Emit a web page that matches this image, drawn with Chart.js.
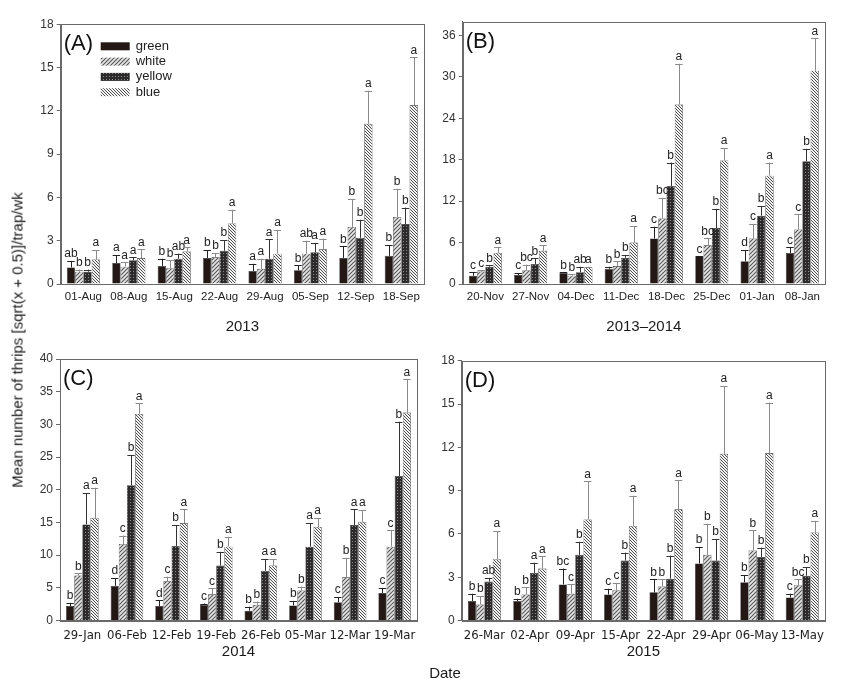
<!DOCTYPE html>
<html>
<head>
<meta charset="utf-8">
<script src="https://cdn.jsdelivr.net/npm/chart.js@4.4.1/dist/chart.umd.min.js"></script>
<style>
  body { margin: 0; background: #fff; width: 847px; height: 689px; position: relative; overflow: hidden;
         font-family: "Liberation Sans", Arial, sans-serif; }
  canvas { position: absolute; left: 0; top: 0; }
  .txt { position: absolute; color: #1a1a1a; white-space: nowrap; font-size: 15px; }
</style>
</head>
<body>
<canvas id="panelA" width="847" height="689"></canvas>
<canvas id="panelB" width="847" height="689"></canvas>
<canvas id="panelC" width="847" height="689"></canvas>
<canvas id="panelD" width="847" height="689"></canvas>
<div class="txt" style="left:17px;top:340px;transform:translate(-50%,-50%) rotate(-90deg);">Mean number of thrips [sqrt(x + 0.5)]/trap/wk</div>
<div class="txt" style="left:405px;top:664px;width:80px;text-align:center;">Date</div>
<script>
var seriesNames = ["green", "white", "yellow", "blue"];

// (A) 2013
var datesA = ["01-Aug", "08-Aug", "15-Aug", "22-Aug", "29-Aug", "05-Sep", "12-Sep", "18-Sep"];
var greenA = [1.15, 1.45, 1.25, 1.8, 0.9, 0.95, 1.8, 1.95];
var whiteA = [0.85, 1.2, 1.1, 1.85, 1.05, 2.1, 3.95, 4.65];
var yellowA = [0.85, 1.65, 1.75, 2.3, 1.75, 2.2, 3.2, 4.15];
var blueA = [1.7, 1.8, 2.25, 4.2, 2.1, 2.4, 11.1, 12.4];
var greenTopA = [1.6, 2.0, 1.75, 2.35, 1.4, 1.3, 2.6, 2.7];
var whiteTopA = [1.0, 1.5, 1.65, 2.15, 1.75, 3.0, 5.9, 6.6];
var yellowTopA = [1.0, 1.85, 2.1, 3.05, 3.1, 2.85, 4.45, 5.3];
var blueTopA = [2.35, 2.4, 2.55, 5.15, 3.75, 3.15, 13.4, 15.7];
var greenLetA = ["ab", "a", "b", "b", "a", "b", "b", "b"];
var whiteLetA = ["b", "a", "b", "b", "a", "ab", "b", "b"];
var yellowLetA = ["b", "a", "ab", "b", "a", "a", "b", "b"];
var blueLetA = ["a", "a", "a", "a", "a", "a", "a", "a"];
var ticksA = [0, 3, 6, 9, 12, 15, 18];

// (B) 2013-2014
var datesB = ["20-Nov", "27-Nov", "04-Dec", "11-Dec", "18-Dec", "25-Dec", "01-Jan", "08-Jan"];
var greenB = [1.2, 1.3, 1.6, 2.2, 6.6, 4.0, 3.3, 4.5];
var whiteB = [1.8, 2.0, 1.2, 2.6, 9.5, 5.6, 6.6, 7.9];
var yellowB = [2.5, 2.9, 1.7, 3.8, 14.2, 8.1, 9.9, 17.8];
var blueB = [4.5, 4.8, 2.4, 6.0, 26.0, 17.9, 15.7, 30.9];
var greenTopB = [1.7, 1.6, 1.7, 2.5, 8.3, 4.0, 4.9, 5.3];
var whiteTopB = [2.0, 2.8, 1.4, 3.3, 12.5, 6.6, 8.7, 10.1];
var yellowTopB = [2.7, 3.7, 2.5, 4.2, 17.6, 10.9, 11.3, 19.6];
var blueTopB = [5.3, 5.6, 2.5, 8.4, 31.9, 19.7, 17.6, 35.6];
var greenLetB = ["c", "c", "b", "b", "c", "c", "d", "c"];
var whiteLetB = ["c", "bc", "b", "b", "bc", "bc", "c", "c"];
var yellowLetB = ["b", "b", "ab", "b", "b", "b", "b", "b"];
var blueLetB = ["a", "a", "a", "a", "a", "a", "a", "a"];
var ticksB = [0, 6, 12, 18, 24, 30, 36];

// (C) 2014
var datesC = ["29-Jan", "06-Feb", "12-Feb", "19-Feb", "26-Feb", "05-Mar", "12-Mar", "19-Mar"];
var greenC = [2.2, 5.3, 2.2, 2.4, 1.5, 2.3, 2.8, 4.2];
var whiteC = [6.9, 11.7, 6.0, 4.0, 2.4, 4.6, 6.6, 11.3];
var yellowC = [14.7, 20.7, 11.4, 8.4, 7.6, 11.3, 14.6, 22.1];
var blueC = [15.7, 31.6, 14.9, 11.3, 8.4, 14.3, 15.1, 31.8];
var greenTopC = [2.7, 6.5, 3.1, 2.6, 2.1, 3.0, 3.6, 5.0];
var whiteTopC = [7.2, 13.0, 6.7, 4.9, 2.9, 5.2, 9.6, 13.8];
var yellowTopC = [19.5, 25.3, 14.6, 10.5, 9.4, 14.9, 17.0, 30.4];
var blueTopC = [20.3, 33.2, 17.0, 12.8, 9.4, 15.7, 16.9, 36.9];
var greenLetC = ["b", "d", "d", "c", "b", "b", "c", "c"];
var whiteLetC = ["b", "c", "c", "c", "b", "b", "b", "c"];
var yellowLetC = ["a", "b", "b", "b", "a", "a", "a", "b"];
var blueLetC = ["a", "a", "a", "a", "a", "a", "a", "a"];
var ticksC = [0, 5, 10, 15, 20, 25, 30, 35, 40];

// (D) 2015
var datesD = ["26-Mar", "02-Apr", "09-Apr", "15-Apr", "22-Apr", "29-Apr", "06-May", "13-May"];
var greenD = [1.35, 1.35, 2.5, 1.8, 1.95, 3.95, 2.65, 1.6];
var whiteD = [1.1, 1.8, 1.85, 2.1, 2.35, 4.55, 4.85, 2.45];
var yellowD = [2.7, 3.3, 4.55, 4.15, 2.9, 4.15, 4.4, 3.1];
var blueD = [4.25, 3.6, 7.0, 6.55, 7.7, 11.55, 11.6, 6.1];
var greenTopD = [1.85, 1.5, 3.6, 2.2, 2.85, 5.1, 3.15, 1.85];
var whiteTopD = [1.7, 2.3, 2.5, 2.6, 2.85, 6.7, 6.25, 2.85];
var yellowTopD = [2.95, 4.0, 5.45, 4.7, 4.5, 5.65, 5.05, 3.7];
var blueTopD = [6.2, 4.45, 9.65, 8.65, 9.7, 16.25, 15.1, 6.9];
var greenLetD = ["b", "b", "bc", "c", "b", "b", "b", "c"];
var whiteLetD = ["b", "b", "c", "c", "b", "b", "b", "bc"];
var yellowLetD = ["ab", "a", "b", "b", "b", "b", "b", "b"];
var blueLetD = ["a", "a", "a", "a", "a", "a", "a", "a"];
var ticksD = [0, 3, 6, 9, 12, 15, 18];

var FONT = "'Liberation Sans', Arial, sans-serif";
var NARROW = "'Liberation Sans Narrow', 'DejaVu Sans Condensed', 'Liberation Sans', sans-serif";

// hatch fills
function hatch(bg, fg, slash, gap, lw) {
  var c = document.createElement("canvas");
  c.width = gap; c.height = gap;
  var g = c.getContext("2d");
  g.fillStyle = bg;
  g.fillRect(0, 0, gap, gap);
  g.strokeStyle = fg;
  g.lineWidth = lw;
  g.beginPath();
  if (slash) {
    g.moveTo(-1, gap + 1); g.lineTo(gap + 1, -1);
    g.moveTo(-1, 1); g.lineTo(1, -1);
    g.moveTo(gap - 1, gap + 1); g.lineTo(gap + 1, gap - 1);
  } else {
    g.moveTo(-1, -1); g.lineTo(gap + 1, gap + 1);
    g.moveTo(gap - 1, -1); g.lineTo(gap + 1, 1);
    g.moveTo(-1, gap - 1); g.lineTo(1, gap + 1);
  }
  g.stroke();
  return g.createPattern(c, "repeat");
}
function dots() {
  var c = document.createElement("canvas");
  c.width = 3; c.height = 3;
  var g = c.getContext("2d");
  g.fillStyle = "#2c2a2a";
  g.fillRect(0, 0, 3, 3);
  g.fillStyle = "#8c8c8c";
  g.fillRect(1, 1, 1, 1);
  return g.createPattern(c, "repeat");
}
var fills = ["#231816", hatch("#e6e6e6", "#555", true, 4, 1.1), dots(), hatch("#f4f4f4", "#3a3a3a", false, 3, 0.9)];
var errColors = ["#222", "#8a8a8a", "#333", "#8a8a8a"];

var errorBars = {
  id: "errorBars",
  afterDatasetsDraw: function (chart) {
    var ctx = chart.ctx, y = chart.scales.y;
    ctx.save();
    chart.data.datasets.forEach(function (ds, di) {
      chart.getDatasetMeta(di).data.forEach(function (bar, i) {
        var top = y.getPixelForValue(ds.errTop[i]);
        var half = bar.width * 0.45;
        ctx.strokeStyle = errColors[di];
        ctx.lineWidth = 1;
        ctx.beginPath();
        ctx.moveTo(Math.round(bar.x) + 0.5, bar.y);
        ctx.lineTo(Math.round(bar.x) + 0.5, top);
        ctx.moveTo(bar.x - half, Math.round(top) + 0.5);
        ctx.lineTo(bar.x + half, Math.round(top) + 0.5);
        ctx.stroke();
        ctx.fillStyle = "#222";
        ctx.font = "12px " + FONT;
        ctx.textAlign = "center";
        ctx.textBaseline = "bottom";
        ctx.fillText(ds.letters[i], bar.x, top - 1);
      });
    });
    ctx.restore();
  }
};

var frame = {
  id: "frame",
  afterDraw: function (chart) {
    var a = chart.chartArea, ctx = chart.ctx;
    ctx.save();
    ctx.strokeStyle = "#6a6a6a";
    ctx.lineWidth = 1;
    ctx.strokeRect(Math.round(a.left) + 0.5, Math.round(a.top) + 0.5, Math.round(a.right - a.left), Math.round(a.bottom - a.top));
    ctx.fillStyle = "#111";
    ctx.font = "22px " + FONT;
    ctx.textAlign = "left";
    ctx.textBaseline = "middle";
    ctx.fillText(chart.options.plugins.frame.tag, a.left + 3, a.top + 20);
    if (chart.options.plugins.frame.legend) {
      chart.data.datasets.forEach(function (ds, k) {
        var yy = a.top + 22 + k * 15.3;
        ctx.fillStyle = fills[k];
        ctx.fillRect(a.left + 40, yy - 4, 29, 8);
        ctx.fillStyle = "#222";
        ctx.font = "13px " + FONT;
        ctx.fillText(ds.label, a.left + 75, yy);
      });
    }
    ctx.restore();
  }
};

function makePanel(id, p) {
  return new Chart(document.getElementById(id), {
    type: "bar",
    data: {
      labels: p.dates,
      datasets: seriesNames.map(function (name, k) {
        return {
          label: name,
          data: p.values[k],
          errTop: p.tops[k],
          letters: p.letters[k],
          backgroundColor: fills[k],
          borderColor: "#2a2a2a",
          borderWidth: 0.6,
          categoryPercentage: 0.73,
          barPercentage: 1
        };
      })
    },
    options: {
      responsive: false,
      animation: false,
      layout: { padding: p.pad },
      plugins: {
        legend: { display: false },
        tooltip: { enabled: false },
        frame: { tag: p.tag, legend: p.legend }
      },
      scales: {
        x: {
          grid: { display: false, drawTicks: false },
          border: { display: true, color: "#6a6a6a" },
          ticks: { padding: p.xPad, color: "#222", autoSkip: false, maxRotation: 0, font: { family: p.xFont, size: p.xSize } },
          title: { display: true, text: p.xTitle, color: "#1a1a1a", padding: 0, font: { family: FONT, size: 15 } },
          afterFit: function (s) { s.height = p.xH; }
        },
        y: {
          min: 0,
          max: p.max,
          grid: { drawOnChartArea: false, tickLength: 4, color: "#6a6a6a" },
          border: { color: "#6a6a6a" },
          ticks: { padding: 3, color: "#333", font: { family: FONT, size: 12 } },
          afterBuildTicks: function (s) { s.ticks = p.ticks.map(function (v) { return { value: v }; }); },
          afterFit: function (s) { s.width = 45; }
        }
      }
    },
    plugins: [errorBars, frame]
  });
}

makePanel("panelA", {
  dates: datesA, tag: "(A)", legend: true, xTitle: "2013", max: 18, ticks: ticksA,
  values: [greenA, whiteA, yellowA, blueA],
  tops: [greenTopA, whiteTopA, yellowTopA, blueTopA],
  letters: [greenLetA, whiteLetA, yellowLetA, blueLetA],
  pad: { left: 15.7, top: 24.3, right: 423, bottom: 353 }, xH: 52, xPad: 6, xFont: FONT, xSize: 11.5
});
makePanel("panelB", {
  dates: datesB, tag: "(B)", legend: false, xTitle: "2013\u20132014", max: 38, ticks: ticksB,
  values: [greenB, whiteB, yellowB, blueB],
  tops: [greenTopB, whiteTopB, yellowTopB, blueTopB],
  letters: [greenLetB, whiteLetB, yellowLetB, blueLetB],
  pad: { left: 417.7, top: 21.7, right: 22, bottom: 353 }, xH: 52, xPad: 6, xFont: FONT, xSize: 11.5
});
makePanel("panelC", {
  dates: datesC, tag: "(C)", legend: false, xTitle: "2014", max: 40, ticks: ticksC,
  values: [greenC, whiteC, yellowC, blueC],
  tops: [greenTopC, whiteTopC, yellowTopC, blueTopC],
  letters: [greenLetC, whiteLetC, yellowLetC, blueLetC],
  pad: { left: 15, top: 359, right: 430, bottom: 28.5 }, xH: 40, xPad: 7, xFont: NARROW, xSize: 13
});
makePanel("panelD", {
  dates: datesD, tag: "(D)", legend: false, xTitle: "2015", max: 18, ticks: ticksD,
  values: [greenD, whiteD, yellowD, blueD],
  tops: [greenTopD, whiteTopD, yellowTopD, blueTopD],
  letters: [greenLetD, whiteLetD, yellowLetD, blueLetD],
  pad: { left: 416.7, top: 360.7, right: 22, bottom: 28.5 }, xH: 40, xPad: 7, xFont: NARROW, xSize: 13
});
</script>
</body>
</html>
